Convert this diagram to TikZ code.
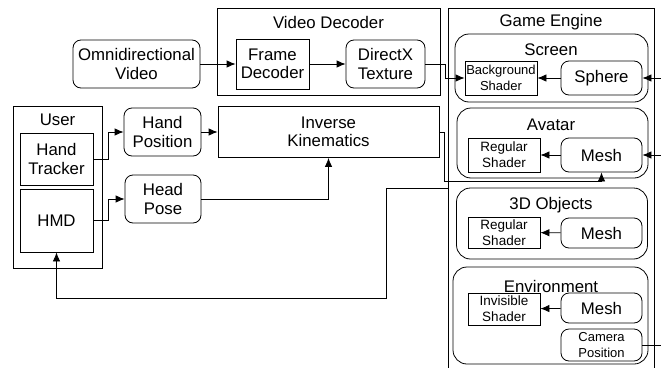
\documentclass[tikz,border=0pt]{standalone}
\usepackage{fontspec}
\setmainfont{Liberation Sans}
\usepackage{tikz}
\usetikzlibrary{arrows.meta}

\begin{document}
\begin{tikzpicture}[x=1pt,y=-1pt]
\tikzstyle{block}=[draw=black,line width=0.8pt,align=center,inner sep=1pt,font=\fontsize{16.8}{18.5}\selectfont];
\tikzstyle{rblock}=[block,rounded corners=8pt];
\tikzstyle{shader}=[block,minimum width=72,font=\fontsize{13.5}{16}\selectfont];
\tikzstyle{frame}=[draw=black,line width=0.8pt];
\tikzstyle{group}=[frame,rounded corners=14pt];
\tikzstyle{title}=[font=\fontsize{16.8}{18.5}\selectfont];
\tikzstyle{myarrow}=[line width=0.8pt,draw=black,->,>={Latex[length=9pt,width=7.5pt]}];
\tikzstyle{wire}=[line width=0.8pt,draw=black];

\useasboundingbox (0,0) rectangle (661,367);

\def \meshx{601.5};
\def \shadex{504};
\def \edge{661};

% input video
\node[rblock,minimum width=127,minimum height=48] (omni) at (136.5,64) {Omnidirectional\\Video};

% video decoder
\node[frame,minimum width=223,minimum height=87] (vdec) at (328.5,51.5) {};
\node[title] (vdectitle) at (328.5,22) {Video Decoder};
\node[block,minimum width=73,minimum height=50] (fdec) at (272.5,64) {Frame\\Decoder};
\node[rblock,minimum width=79,minimum height=48] (dxtex) at (385.5,64) {DirectX\\Texture};

% user
\node[frame,minimum width=89,minimum height=162] (user) at (57.5,187) {};
\node[title] (usertitle) at (57.5,120) {User};
\node[block,minimum width=73,minimum height=52] (tracker) at (56.5,159) {Hand\\Tracker};
\node[block,minimum width=73,minimum height=63] (hmd) at (56.5,220.5) {HMD};

\node[rblock,minimum width=77,minimum height=48] (handpos) at (162.5,132) {Hand\\Position};
\node[rblock,minimum width=76,minimum height=48] (headpose) at (163,199) {Head\\Pose};
\node[block,minimum width=221,minimum height=51] (ik) at (328.5,132) {Inverse\\Kinematics};

% game engine, open at the bottom
\node[frame,anchor=north west,minimum width=206,minimum height=380] (engine) at (448,8) {};
\node[title] (enginetitle) at (551,22) {Game Engine};

\node[group,minimum width=193,minimum height=68] (screen) at (551.5,68) {};
\node[title] (screentitle) at (551,50) {Screen};
\node[shader,minimum height=34,font=\fontsize{13}{15.5}\selectfont] (bgshader) at (501,78) {Background\\Shader};
\node[rblock,minimum width=81,minimum height=34] (sphere) at (\meshx,78) {Sphere};

\node[group,minimum width=191,minimum height=70] (avatar) at (552.5,143) {};
\node[title] (avatartitle) at (551,125) {Avatar};
\node[shader,minimum height=34] (avshader) at (\shadex,155) {Regular\\Shader};
\node[rblock,minimum width=81,minimum height=34] (avmesh) at (\meshx,155) {Mesh};

\node[group,minimum width=191,minimum height=71] (objects) at (552,223.5) {};
\node[title] (objectstitle) at (551,205) {3D Objects};
\node[shader,minimum height=31] (objshader) at (\shadex,232.5) {Regular\\Shader};
\node[rblock,minimum width=81,minimum height=30] (objmesh) at (\meshx,233) {Mesh};

\node[group,minimum width=195,minimum height=97] (env) at (550.5,315.5) {};
\node[title] (envtitle) at (551,286) {Environment};
\node[shader,minimum height=32] (envshader) at (\shadex,309) {Invisible\\Shader};
\node[rblock,minimum width=81,minimum height=30] (envmesh) at (\meshx,308) {Mesh};
\node[rblock,minimum width=81,minimum height=32,font=\fontsize{13}{16.5}\selectfont] (campos) at (\meshx,345) {Camera\\Position};

% loose ends on the right and the render output
\coordinate (sphereIn) at (\edge,78);
\coordinate (meshIn) at (\edge,155);
\coordinate (camOut) at (\edge,345);
\coordinate (render) at (448,188);

% video path
\draw [myarrow] (omni) -- (fdec);
\draw [myarrow] (fdec) -- (dxtex);
\draw [myarrow] (dxtex.east) -- ++(20,0) |- (bgshader.west);

% tracking path
\draw [myarrow] (tracker.east) -- ++(15,0) |- (handpos.west);
\draw [myarrow] (hmd.east) -- ++(15,0) |- (headpose.west);
\draw [myarrow] (handpos.east) -- (handpos.east -| ik.west);
\draw [myarrow] (headpose.east) -| (ik.south);
\draw [myarrow] (ik.east) -- ++(5,0) -- ++(0,49) -| (avmesh.south);

% inside the engine
\draw [myarrow] (sphereIn) -- (sphere);
\draw [myarrow] (sphere) -- (bgshader);
\draw [myarrow] (meshIn) -- (avmesh);
\draw [myarrow] (avmesh) -- (avshader);
\draw [myarrow] (objmesh) -- (objshader);
\draw [myarrow] (envmesh) -- (envshader);
\draw [wire] (campos.east) -- (camOut);

% rendered frames back to the headset
\draw [myarrow] (render) -| (386,298) -| (hmd.south);

\end{tikzpicture}
\end{document}
